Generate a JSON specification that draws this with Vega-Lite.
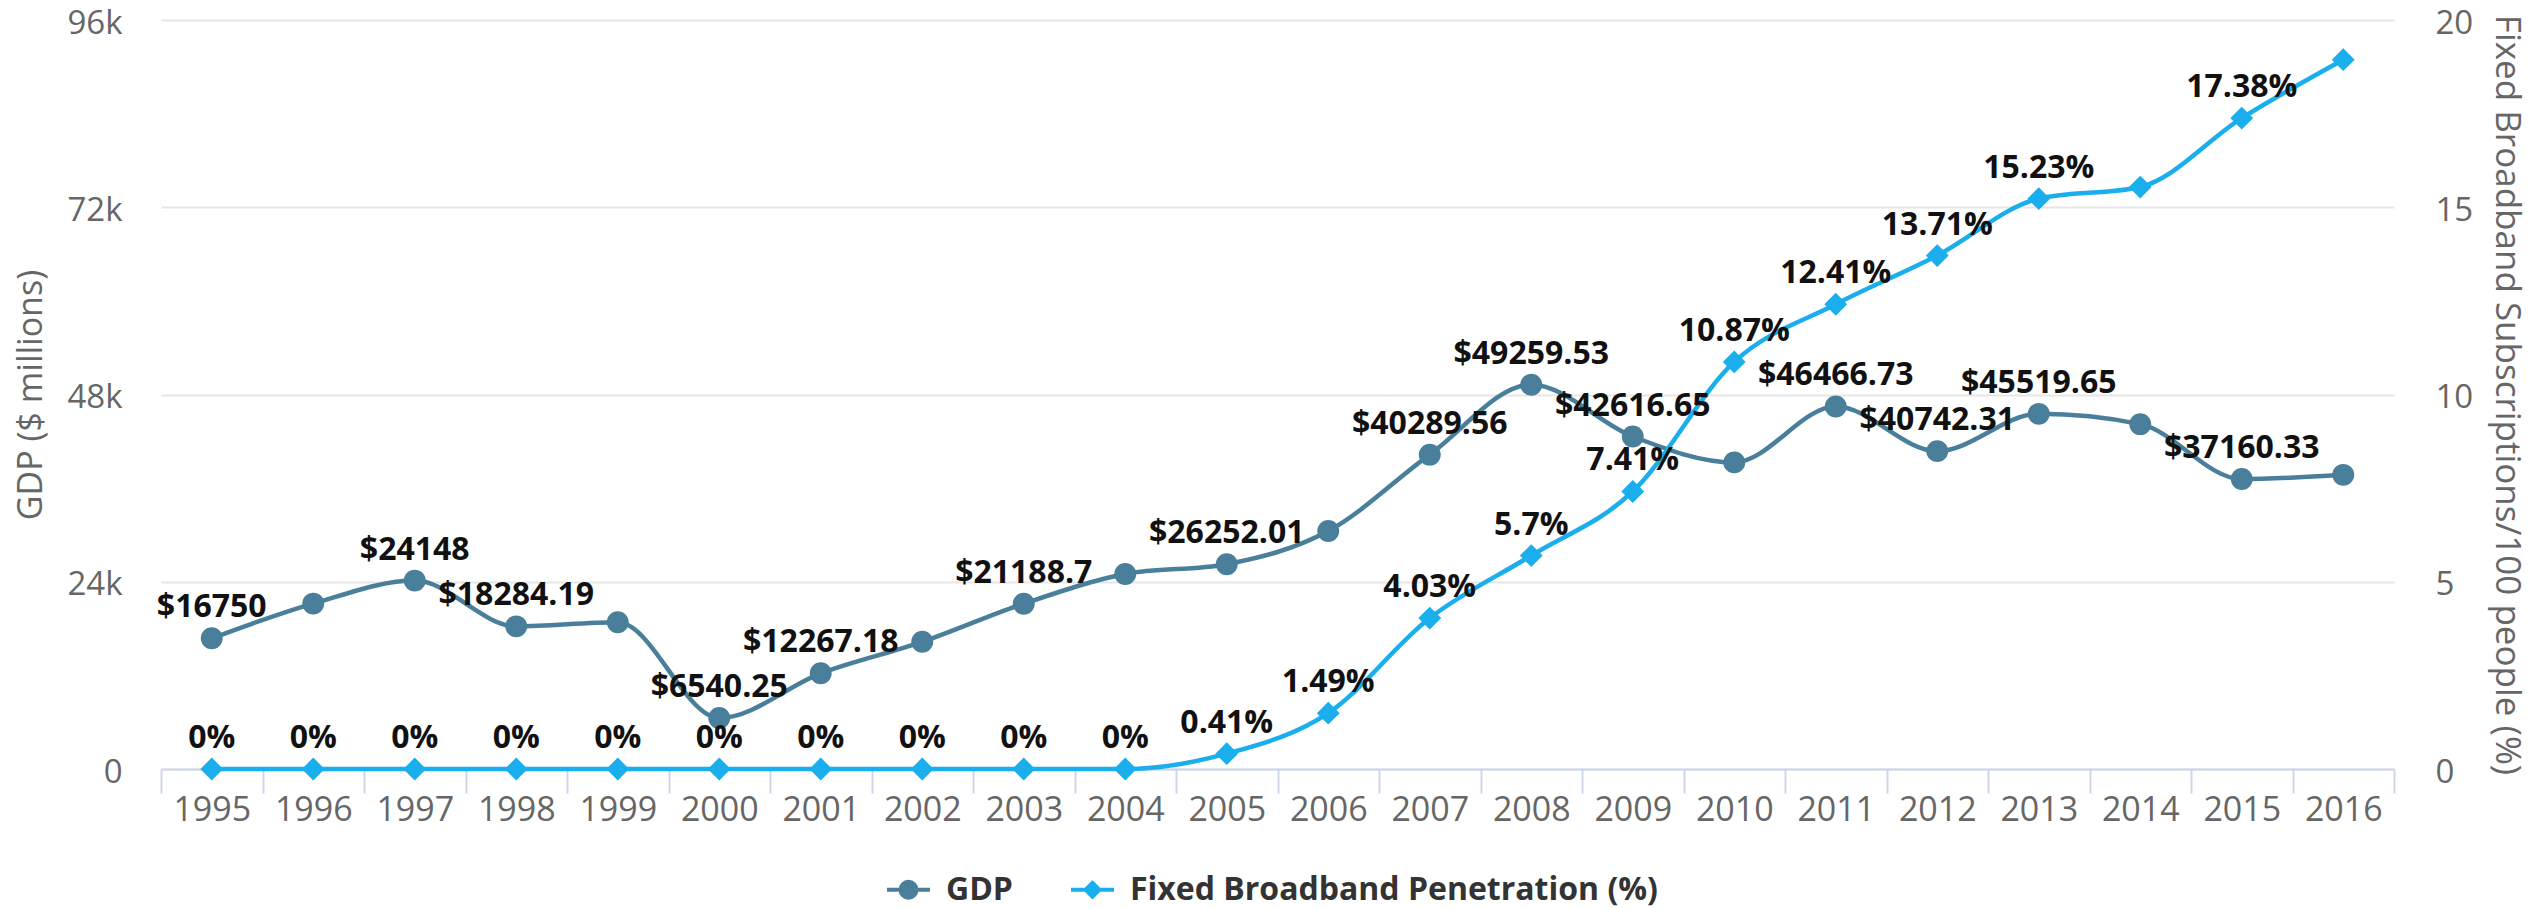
{
  "$schema": "https://vega.github.io/schema/vega-lite/v6.json",
  "width": 2233,
  "height": 749,
  "autosize": {"type": "none"},
  "padding": {"left": 161, "top": 20, "right": 154, "bottom": 140},
  "background": "#ffffff",
  "config": {
    "font": "Open Sans",
    "view": {"stroke": null},
    "axis": {"labelFont": "Open Sans", "titleFont": "Open Sans"}
  },
  "data": {
    "values": [
      {"year": "1995", "series": "GDP", "value": 16750},
      {"year": "1996", "series": "GDP", "value": 21200},
      {"year": "1997", "series": "GDP", "value": 24148},
      {"year": "1998", "series": "GDP", "value": 18284.19},
      {"year": "1999", "series": "GDP", "value": 18800},
      {"year": "2000", "series": "GDP", "value": 6540.25},
      {"year": "2001", "series": "GDP", "value": 12267.18},
      {"year": "2002", "series": "GDP", "value": 16300},
      {"year": "2003", "series": "GDP", "value": 21188.7},
      {"year": "2004", "series": "GDP", "value": 25000},
      {"year": "2005", "series": "GDP", "value": 26252.01},
      {"year": "2006", "series": "GDP", "value": 30500},
      {"year": "2007", "series": "GDP", "value": 40289.56},
      {"year": "2008", "series": "GDP", "value": 49259.53},
      {"year": "2009", "series": "GDP", "value": 42616.65},
      {"year": "2010", "series": "GDP", "value": 39300},
      {"year": "2011", "series": "GDP", "value": 46466.73},
      {"year": "2012", "series": "GDP", "value": 40742.31},
      {"year": "2013", "series": "GDP", "value": 45519.65},
      {"year": "2014", "series": "GDP", "value": 44200},
      {"year": "2015", "series": "GDP", "value": 37160.33},
      {"year": "2016", "series": "GDP", "value": 37700},
      {"year": "1995", "series": "Fixed Broadband Penetration (%)", "value": 0},
      {"year": "1996", "series": "Fixed Broadband Penetration (%)", "value": 0},
      {"year": "1997", "series": "Fixed Broadband Penetration (%)", "value": 0},
      {"year": "1998", "series": "Fixed Broadband Penetration (%)", "value": 0},
      {"year": "1999", "series": "Fixed Broadband Penetration (%)", "value": 0},
      {"year": "2000", "series": "Fixed Broadband Penetration (%)", "value": 0},
      {"year": "2001", "series": "Fixed Broadband Penetration (%)", "value": 0},
      {"year": "2002", "series": "Fixed Broadband Penetration (%)", "value": 0},
      {"year": "2003", "series": "Fixed Broadband Penetration (%)", "value": 0},
      {"year": "2004", "series": "Fixed Broadband Penetration (%)", "value": 0},
      {"year": "2005", "series": "Fixed Broadband Penetration (%)", "value": 0.41},
      {"year": "2006", "series": "Fixed Broadband Penetration (%)", "value": 1.49},
      {"year": "2007", "series": "Fixed Broadband Penetration (%)", "value": 4.03},
      {"year": "2008", "series": "Fixed Broadband Penetration (%)", "value": 5.7},
      {"year": "2009", "series": "Fixed Broadband Penetration (%)", "value": 7.41},
      {"year": "2010", "series": "Fixed Broadband Penetration (%)", "value": 10.87},
      {"year": "2011", "series": "Fixed Broadband Penetration (%)", "value": 12.41},
      {"year": "2012", "series": "Fixed Broadband Penetration (%)", "value": 13.71},
      {"year": "2013", "series": "Fixed Broadband Penetration (%)", "value": 15.23},
      {"year": "2014", "series": "Fixed Broadband Penetration (%)", "value": 15.54},
      {"year": "2015", "series": "Fixed Broadband Penetration (%)", "value": 17.38},
      {"year": "2016", "series": "Fixed Broadband Penetration (%)", "value": 18.94}
    ]
  },
  "encoding": {
    "x": {
      "field": "year",
      "type": "nominal",
      "bandPosition": 0.5,
      "scale": {"type": "band", "paddingInner": 0, "paddingOuter": 0},
      "axis": {
        "title": null,
        "labelAngle": 0,
        "labelFontSize": 34,
        "labelColor": "#666666",
        "labelPadding": 0,
        "tickBand": "extent",
        "tickSize": 24,
        "tickColor": "#ccd6eb",
        "tickWidth": 2,
        "domainColor": "#ccd6eb",
        "domainWidth": 2,
        "grid": false
      }
    }
  },
  "layer": [
    {
      "transform": [{"filter": "datum.series === 'GDP'"}],
      "encoding": {
        "y": {
          "field": "value",
          "type": "quantitative",
          "scale": {"domain": [0, 96000], "nice": false},
          "axis": {
            "title": "GDP ($ millions)",
            "titleFontSize": 34,
            "titleFontWeight": "normal",
            "titleColor": "#666666",
            "titlePadding": 18,
            "values": [0, 24000, 48000, 72000, 96000],
            "labelExpr": "datum.value === 0 ? '0' : (datum.value / 1000) + 'k'",
            "labelFontSize": 33,
            "labelColor": "#666666",
            "labelPadding": 39,
            "labelOffset": 3,
            "ticks": false,
            "domain": false,
            "grid": true,
            "gridColor": "#e6e6e6",
            "gridWidth": 2
          }
        },
        "color": {
          "field": "series",
          "type": "nominal",
          "scale": {
            "domain": ["GDP", "Fixed Broadband Penetration (%)"],
            "range": ["#4a7f9b", "#1aaeed"]
          },
          "legend": {
            "title": null,
            "orient": "none",
            "direction": "horizontal",
            "legendX": 724,
            "legendY": 846,
            "padding": 0,
            "labelFont": "Open Sans",
            "labelFontSize": 32,
            "labelFontWeight": "bold",
            "labelColor": "#333333",
            "labelOffset": 14,
            "labelLimit": 1000,
            "columnPadding": 50,
            "symbolSize": 1849,
            "encode": {
              "symbols": {
                "update": {
                  "shape": {"signal": "datum.value === 'GDP' ? 'M-1,0H1M0.37,0A0.37,0.37,0,1,1,-0.37,0A0.37,0.37,0,1,1,0.37,0Z' : 'M-1,0H1M0,-0.32L0.32,0L0,0.32L-0.32,0Z'"},
                  "fill": {"scale": "color", "field": "value"},
                  "stroke": {"scale": "color", "field": "value"},
                  "strokeWidth": {"value": 4},
                  "size": {"value": 1849},
                  "opacity": {"value": 1}
                }
              }
            }
          }
        }
      },
      "layer": [
        {"mark": {"type": "line", "interpolate": "monotone", "strokeWidth": 4.5}},
        {"mark": {"type": "point", "shape": "circle", "filled": true, "size": 480, "opacity": 1}}
      ]
    },
    {
      "transform": [{"filter": "datum.series !== 'GDP'"}],
      "encoding": {
        "y": {
          "field": "value",
          "type": "quantitative",
          "scale": {"domain": [0, 20], "nice": false},
          "axis": {
            "orient": "right",
            "title": "Fixed Broadband Subscriptions/100 people (%)",
            "titleFontSize": 35,
            "titleFontWeight": "normal",
            "titleColor": "#666666",
            "titlePadding": 16,
            "values": [0, 5, 10, 15, 20],
            "labelFontSize": 33,
            "labelColor": "#666666",
            "labelPadding": 41,
            "labelOffset": 3,
            "ticks": false,
            "domain": false,
            "grid": false
          }
        },
        "color": {"field": "series", "type": "nominal"}
      },
      "layer": [
        {"mark": {"type": "line", "interpolate": "monotone", "strokeWidth": 4.5}},
        {"mark": {"type": "point", "shape": "diamond", "filled": true, "size": 520, "opacity": 1}}
      ]
    },
    {
      "transform": [
        {"filter": "datum.series === 'GDP'"},
        {"filter": {"field": "year", "oneOf": ["1995", "1997", "1998", "2000", "2001", "2003", "2005", "2007", "2008", "2009", "2011", "2012", "2013", "2015"]}},
        {"calculate": "'$' + datum.value", "as": "label"}
      ],
      "mark": {"type": "text", "font": "Open Sans", "fontSize": 32, "fontWeight": "bold", "color": "#111111", "baseline": "middle", "dy": -31},
      "encoding": {
        "y": {"field": "value", "type": "quantitative", "scale": {"domain": [0, 96000], "nice": false}, "axis": null},
        "text": {"field": "label", "type": "nominal"}
      }
    },
    {
      "transform": [
        {"filter": "datum.series !== 'GDP'"},
        {"filter": {"not": {"field": "year", "oneOf": ["2014", "2016"]}}},
        {"calculate": "datum.value + '%'", "as": "label"}
      ],
      "mark": {"type": "text", "font": "Open Sans", "fontSize": 32, "fontWeight": "bold", "color": "#111111", "baseline": "middle", "dy": -31},
      "encoding": {
        "y": {"field": "value", "type": "quantitative", "scale": {"domain": [0, 20], "nice": false}, "axis": null},
        "text": {"field": "label", "type": "nominal"}
      }
    }
  ],
  "resolve": {"scale": {"y": "independent"}}
}
